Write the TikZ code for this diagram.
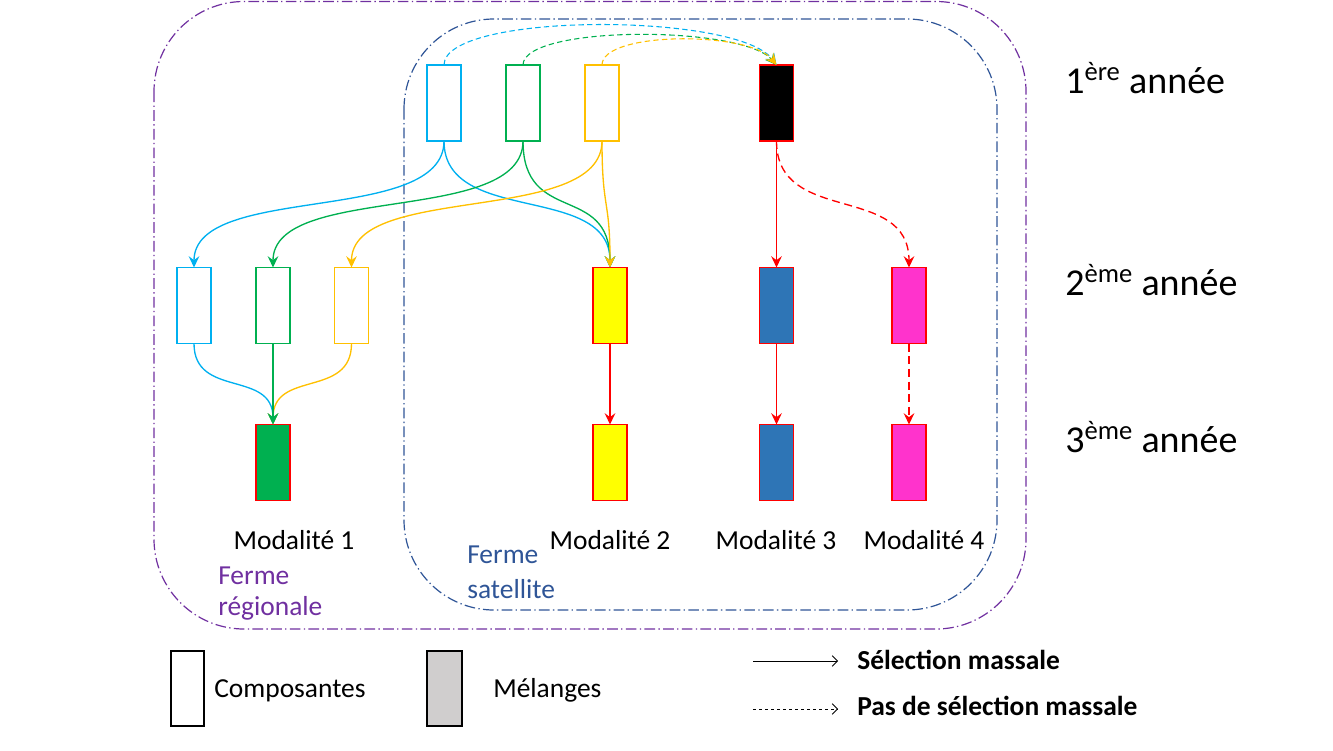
\documentclass[tikz,border=0pt]{standalone}
\usepackage{fontspec}
\setmainfont{Carlito}
\usetikzlibrary{arrows.meta}
\definecolor{ccyan}{HTML}{00B0F0}
\definecolor{cgreen}{HTML}{00B050}
\definecolor{corange}{HTML}{FFC000}
\definecolor{cred}{HTML}{FF0000}
\definecolor{cyell}{HTML}{FFFF00}
\definecolor{cblue}{HTML}{2E75B6}
\definecolor{cmag}{HTML}{FF33CC}
\definecolor{cpurple}{HTML}{7030A0}
\definecolor{cnavy}{HTML}{2F5597}
\definecolor{cgray}{HTML}{D0CECE}
\begin{document}
\begin{tikzpicture}[x=0.75pt,y=-0.75pt,
  box/.style={draw, line width=1pt, minimum width=25.5pt, minimum height=57pt, inner sep=0pt, outer sep=0pt},
  arr/.style={line width=1pt, -{Stealth[length=8.5pt,width=8pt,inset=3pt]}},
  dsh/.style={dash pattern=on 6pt off 3.5pt},
  tdsh/.style={line width=0.8pt, dash pattern=on 4pt off 2.5pt},
  frame/.style={line width=0.9pt, dash pattern=on 8pt off 2.5pt on 1pt off 2.5pt, rounded corners=67.5pt},
  lbl/.style={font=\fontsize{20.6}{23.25}\selectfont, inner sep=0pt},
  year/.style={font=\fontsize{28.5}{34}\selectfont, inner sep=0pt, anchor=base west},
  legarr/.style={line width=0.6pt, -{Straight Barb[length=4pt,width=8pt]}}
]
\useasboundingbox (0,0) rectangle (1333,750);

% farm frames
\draw[frame, cpurple] (154,1.5) rectangle (1026,629);
\draw[frame, cnavy] (404,19) rectangle (997,610);

% year 1
\node[box, ccyan] (c1) at (444,103) {};
\node[box, cgreen] (g1) at (523,103) {};
\node[box, corange] (o1) at (602,103) {};
\node[box, draw=cred, fill=black] (k1) at (776.5,103) {};
% year 2
\node[box, ccyan] (c2) at (194,305.5) {};
\node[box, cgreen] (g2) at (273,305.5) {};
\node[box, corange] (o2) at (351.5,305.5) {};
\node[box, draw=cred, fill=cyell] (y2) at (610,305.5) {};
\node[box, draw=cred, fill=cblue] (b2) at (776.5,305.5) {};
\node[box, draw=cred, fill=cmag] (m2) at (909,305.5) {};
% year 3
\node[box, draw=cred, fill=cgreen] (g3) at (273,462.5) {};
\node[box, draw=cred, fill=cyell] (y3) at (610,462.5) {};
\node[box, draw=cred, fill=cblue] (b3) at (776.5,462.5) {};
\node[box, draw=cred, fill=cmag] (m3) at (909,462.5) {};

% year 1 -> mixture (dashed)
\draw[arr, tdsh, ccyan] (c1.north) .. controls (444,12) and (738,12) .. (k1.north);
\draw[arr, tdsh, cgreen] (g1.north) .. controls (523,25) and (742,25) .. (k1.north);
\draw[arr, tdsh, corange] (o1.north) .. controls (602,31) and (750,31) .. (k1.north);

% year 1 -> year 2
\draw[arr, ccyan] (c1.south) .. controls +(0,85) and +(0,-85) .. (c2.north);
\draw[arr, ccyan] (c1.south) .. controls +(0,85) and +(0,-85) .. (y2.north);
\draw[arr, cgreen] (g1.south) .. controls +(0,85) and +(0,-85) .. (g2.north);
\draw[arr, cgreen] (g1.south) .. controls +(0,85) and +(0,-85) .. (y2.north);
\draw[arr, corange] (o1.south) .. controls +(0,85) and +(0,-85) .. (o2.north);
\draw[arr, corange] (o1.south) .. controls +(0,70) and +(0,-70) .. (y2.north);
\draw[arr, cred] (k1.south) -- (b2.north);
\draw[arr, dsh, cred] (k1.south) .. controls +(0,85) and +(0,-85) .. (m2.north);

% year 2 -> year 3
\draw[arr, ccyan] (c2.south) .. controls +(0,55) and +(0,-55) .. (g3.north);
\draw[arr, corange] (o2.south) .. controls +(0,55) and +(0,-55) .. (g3.north);
\draw[arr, cgreen] (g2.south) -- (g3.north);
\draw[arr, cred] (y2.south) -- (y3.north);
\draw[arr, cred] (b2.south) -- (b3.north);
\draw[arr, dsh, cred] (m2.south) -- (m3.north);

% labels
\node[lbl, anchor=base] (mod1) at (294,549) {Modalité 1};
\node[lbl, anchor=base] (mod2) at (610,549) {Modalité 2};
\node[lbl, anchor=base] (mod3) at (776,549) {Modalité 3};
\node[lbl, anchor=base] (mod4) at (924,549) {Modalité 4};
\node[lbl, anchor=north west, align=left, text=cpurple] (freg) at (218,567) {Ferme\\régionale};
\node[lbl, anchor=north west, align=left, text=cnavy] (fsat) at (467,546) {Ferme\\[3pt]satellite};

\node[year] (a1) at (1065,93) {1\textsuperscript{ère} année};
\node[year] (a2) at (1065,295) {2\textsuperscript{ème} année};
\node[year] (a3) at (1065,452) {3\textsuperscript{ème} année};

% legend
\node[box, draw=black, line width=0.8pt, minimum width=24.75pt, minimum height=56.25pt] (lc) at (187.5,688.5) {};
\node[lbl, anchor=base west] (lct) at (214,697) {Composantes};
\node[box, draw=black, line width=0.8pt, fill=cgray, minimum width=26.25pt, minimum height=56.25pt] (lm) at (444.5,688.5) {};
\node[lbl, anchor=base west] (lmt) at (493,697) {Mélanges};
\coordinate (s1) at (753,661);
\coordinate (e1) at (838,661);
\coordinate (s2) at (753,709);
\coordinate (e2) at (838,709);
\draw[legarr] (s1) -- (e1);
\draw[legarr, dash pattern=on 2.5pt off 2pt] (s2) -- (e2);
\node[lbl, anchor=base west, font=\fontsize{20.6}{23.25}\selectfont\bfseries] (ls) at (857,669) {Sélection massale};
\node[lbl, anchor=base west, font=\fontsize{20.6}{23.25}\selectfont\bfseries] (lp) at (857,715) {Pas de sélection massale};
\end{tikzpicture}
\end{document}
